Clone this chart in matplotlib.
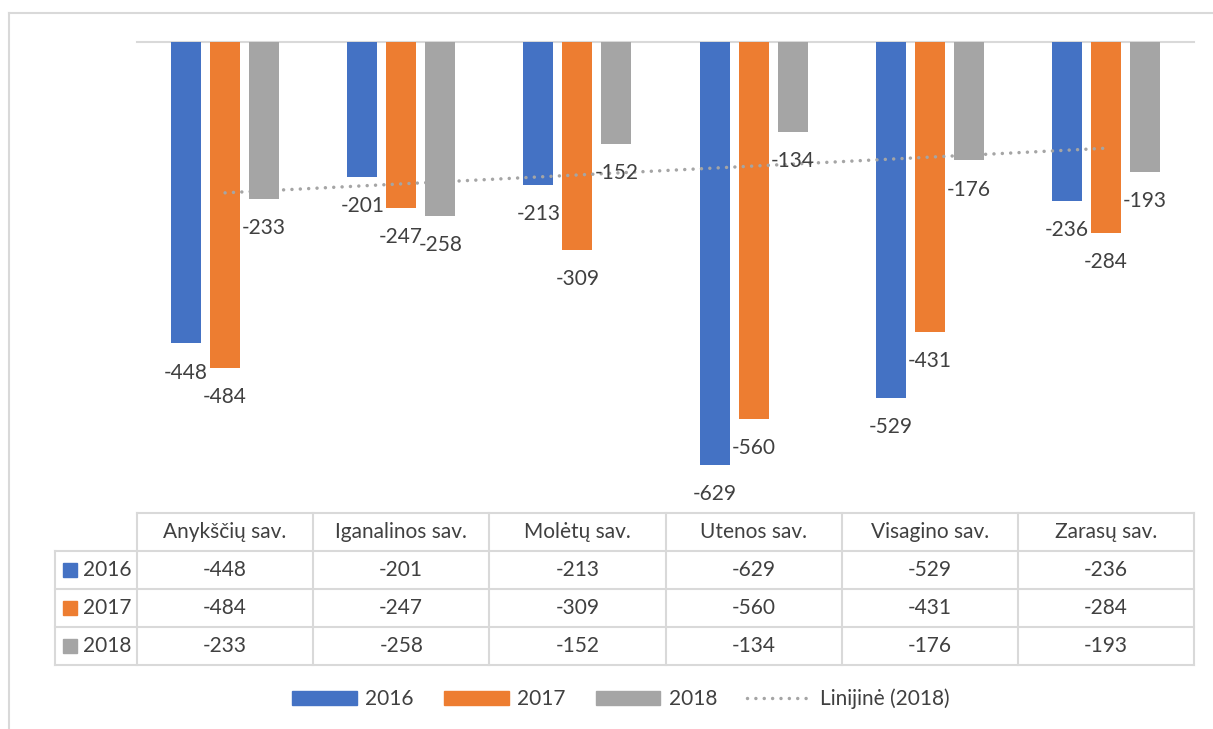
import numpy as np
import matplotlib
import matplotlib.pyplot as plt
from matplotlib.patches import Patch
from matplotlib.lines import Line2D

matplotlib.use('Agg')

plt.rcParams['font.family'] = ['Lato', 'DejaVu Sans']

# data
categories = ['Anykščių sav.', 'Iganalinos sav.', 'Molėtų sav.', 'Utenos sav.', 'Visagino sav.', 'Zarasų sav.']
years = ['2016', '2017', '2018']
v2016 = [-448, -201, -213, -629, -529, -236]
v2017 = [-484, -247, -309, -560, -431, -284]
v2018 = [-233, -258, -152, -134, -176, -193]
series = [v2016, v2017, v2018]
colors = ['#4472C4', '#ED7D31', '#A5A5A5']
trend_label = 'Linijinė (2018)'

W, H = 1213, 729
TXT = '#404040'
GRID = '#D9D9D9'
FS = 15
DOTS = (0, (0.01, 2.4))

fig = plt.figure(figsize=(W / 100, H / 100), dpi=100)

# plot area in pixels
px_left, px_right, px_top, px_bot = 137, 1194, 42, 513
ax = fig.add_axes([px_left / W, (H - px_bot) / H, (px_right - px_left) / W, (px_bot - px_top) / H])
ax.set_xlim(-0.5, len(categories) - 0.5)
ax.set_ylim(-700, 0)

cat_px = (px_right - px_left) / len(categories)
bar_w = 30 / cat_px
step = 39 / cat_px
x = np.arange(len(categories))

for i, (vals, col) in enumerate(zip(series, colors)):
    xs = x + (i - 1) * step
    ax.bar(xs, vals, width=bar_w, color=col, zorder=2)
    for xi, v in zip(xs, vals):
        ax.annotate(f'{v}', (xi, v), xytext=(0, -21), textcoords='offset points',
                    ha='center', va='center', fontsize=FS, color=TXT, zorder=5)

# linear trend of 2018
coef = np.polyfit(x, v2018, 1)
ax.plot(x, np.polyval(coef, x), color='#A5A5A5', lw=2.5, linestyle=DOTS,
        dash_capstyle='round', zorder=4)

ax.axhline(0, color=GRID, lw=1.5, clip_on=False, zorder=1)
for s in ax.spines.values():
    s.set_visible(False)
ax.set_xticks([])
ax.set_yticks([])

# data table
tab_left, tab_bot = 55, 665
tax = fig.add_axes([tab_left / W, (H - tab_bot) / H, (px_right - tab_left) / W, (tab_bot - px_bot) / H])
xl = -0.5 - (px_left - tab_left) / cat_px
tax.set_xlim(xl, len(categories) - 0.5)
tax.set_ylim(4, 0)
tax.axis('off')

lk = dict(color=GRID, lw=1.5, clip_on=False, solid_capstyle='projecting')
tax.plot([-0.5, len(categories) - 0.5], [0, 0], **lk)
for r in range(1, 5):
    tax.plot([xl, len(categories) - 0.5], [r, r], **lk)
tax.plot([xl, xl], [1, 4], **lk)
for k in range(len(categories) + 1):
    tax.plot([k - 0.5, k - 0.5], [0, 4], **lk)

for i, c in enumerate(categories):
    tax.text(i, 0.5, c, ha='center', va='center', fontsize=FS, color=TXT)
for r, (yr, vals, col) in enumerate(zip(years, series, colors)):
    tax.plot([xl + 15 / cat_px], [r + 1.5], marker='s', ms=10, color=col, clip_on=False)
    tax.text(xl + 28 / cat_px, r + 1.5, yr, ha='left', va='center', fontsize=FS, color=TXT)
    for i, v in enumerate(vals):
        tax.text(i, r + 1.5, f'{v}', ha='center', va='center', fontsize=FS, color=TXT)

# legend
handles = [Patch(color=c) for c in colors]
handles.append(Line2D([], [], color='#A5A5A5', lw=2.5, linestyle=DOTS, dash_capstyle='round'))
leg = fig.legend(handles, years + [trend_label], loc='center', bbox_to_anchor=(621 / W, 1 - 699 / H),
                 ncol=4, frameon=False, fontsize=FS, handlelength=3.1, handleheight=0.6,
                 handletextpad=0.4, columnspacing=1.45)
for t in leg.get_texts():
    t.set_color(TXT)

# chart border (left and top visible)
fig.add_artist(Line2D([8.5 / W, 8.5 / W], [0, 1 - 13 / H], color=GRID, lw=1.5))
fig.add_artist(Line2D([8.5 / W, 1], [1 - 13 / H, 1 - 13 / H], color=GRID, lw=1.5))

fig.savefig('out.png', dpi=100)
